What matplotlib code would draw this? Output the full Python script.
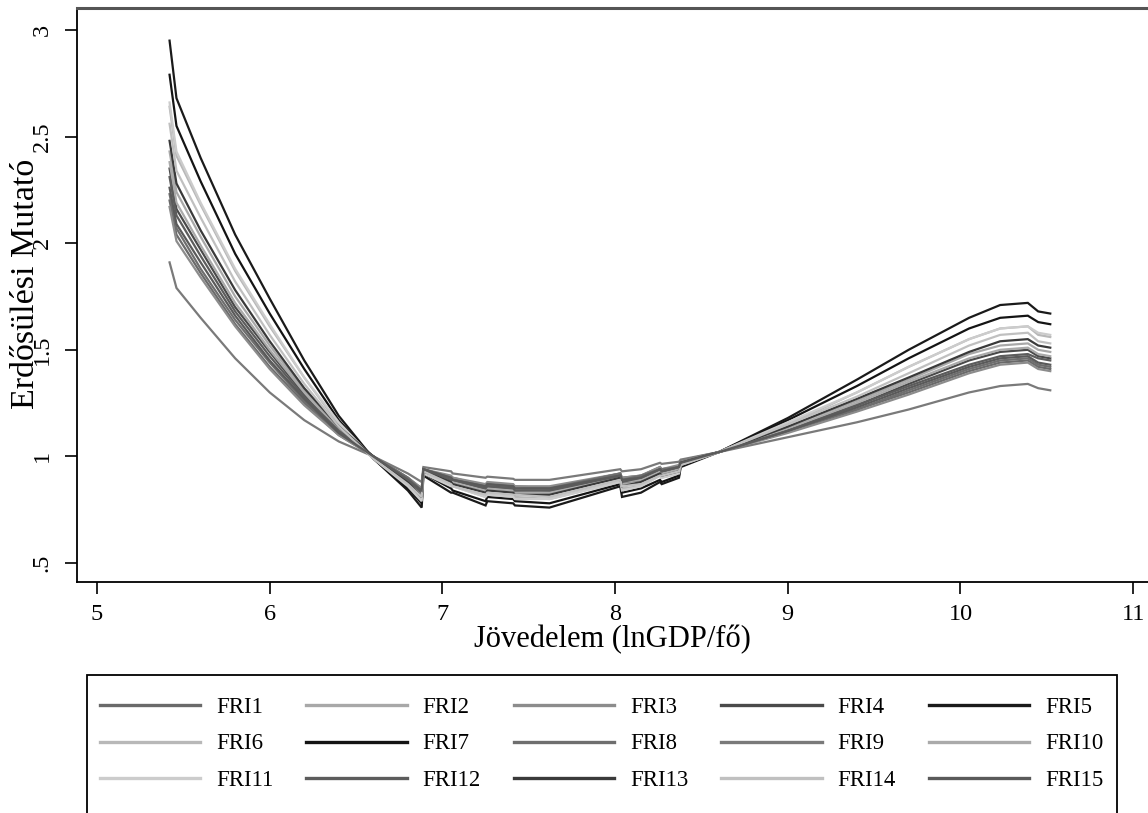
import matplotlib
matplotlib.use("Agg")
import matplotlib.pyplot as plt
from matplotlib.patches import Rectangle
from matplotlib.lines import Line2D

plt.rcParams['font.family'] = ['Liberation Serif', 'DejaVu Serif']

# lnGDP per capita grid (x values)
lngdp = [5.42, 5.46, 5.60, 5.80, 6.00, 6.20, 6.40, 6.60, 6.80, 6.88, 6.89, 7.05, 7.06,
         7.25, 7.26, 7.41, 7.42, 7.62, 8.03, 8.04, 8.15, 8.26, 8.27, 8.37, 8.38, 8.60,
         9.00, 9.40, 9.70, 10.05, 10.23, 10.39, 10.45, 10.52]

fri1 = [2.20, 2.04, 1.86, 1.62, 1.42, 1.25, 1.10, 1.00, 0.90, 0.85, 0.94, 0.90, 0.90,
        0.86, 0.87, 0.86, 0.86, 0.85, 0.92, 0.90, 0.91, 0.95, 0.94, 0.95, 0.98, 1.02,
        1.12, 1.22, 1.30, 1.40, 1.44, 1.45, 1.42, 1.41]
fri2 = [2.43, 2.24, 2.03, 1.75, 1.52, 1.31, 1.13, 1.00, 0.88, 0.82, 0.93, 0.88, 0.88,
        0.84, 0.85, 0.84, 0.83, 0.83, 0.90, 0.87, 0.89, 0.93, 0.92, 0.94, 0.97, 1.02,
        1.14, 1.26, 1.36, 1.48, 1.52, 1.53, 1.50, 1.49]
fri3 = [2.17, 2.01, 1.84, 1.61, 1.41, 1.24, 1.10, 1.00, 0.90, 0.85, 0.94, 0.91, 0.90,
        0.87, 0.88, 0.87, 0.86, 0.86, 0.92, 0.90, 0.91, 0.95, 0.94, 0.96, 0.98, 1.02,
        1.11, 1.21, 1.29, 1.39, 1.43, 1.44, 1.41, 1.40]
fri4 = [2.35, 2.16, 1.97, 1.70, 1.49, 1.29, 1.12, 1.00, 0.89, 0.83, 0.93, 0.89, 0.88,
        0.85, 0.86, 0.85, 0.84, 0.84, 0.91, 0.88, 0.89, 0.93, 0.93, 0.94, 0.97, 1.02,
        1.13, 1.24, 1.34, 1.45, 1.49, 1.50, 1.47, 1.46]
fri5 = [2.95, 2.68, 2.40, 2.04, 1.74, 1.45, 1.19, 0.99, 0.84, 0.76, 0.91, 0.83, 0.83,
        0.77, 0.79, 0.78, 0.77, 0.76, 0.86, 0.81, 0.83, 0.88, 0.87, 0.90, 0.95, 1.02,
        1.18, 1.36, 1.50, 1.65, 1.71, 1.72, 1.68, 1.67]
fri6 = [2.64, 2.41, 2.18, 1.87, 1.61, 1.37, 1.15, 0.99, 0.86, 0.80, 0.92, 0.86, 0.86,
        0.81, 0.82, 0.81, 0.81, 0.80, 0.88, 0.85, 0.86, 0.91, 0.90, 0.92, 0.96, 1.02,
        1.15, 1.30, 1.42, 1.55, 1.60, 1.61, 1.57, 1.56]
fri7 = [2.79, 2.55, 2.29, 1.95, 1.67, 1.41, 1.17, 0.99, 0.85, 0.78, 0.92, 0.85, 0.84,
        0.79, 0.81, 0.80, 0.79, 0.78, 0.87, 0.83, 0.85, 0.89, 0.88, 0.91, 0.96, 1.02,
        1.17, 1.33, 1.46, 1.60, 1.65, 1.66, 1.63, 1.62]
fri8 = [2.23, 2.07, 1.88, 1.64, 1.44, 1.26, 1.11, 1.00, 0.90, 0.84, 0.94, 0.90, 0.89,
        0.86, 0.87, 0.86, 0.85, 0.85, 0.92, 0.89, 0.91, 0.94, 0.94, 0.95, 0.97, 1.02,
        1.12, 1.22, 1.31, 1.41, 1.45, 1.46, 1.43, 1.42]
fri9 = [1.91, 1.79, 1.65, 1.46, 1.30, 1.17, 1.07, 1.00, 0.92, 0.88, 0.95, 0.93, 0.92,
        0.90, 0.905, 0.895, 0.89, 0.89, 0.94, 0.93, 0.94, 0.97, 0.965, 0.975, 0.985, 1.02,
        1.09, 1.16, 1.22, 1.30, 1.33, 1.34, 1.32, 1.31]
fri10 = [2.38, 2.19, 1.99, 1.72, 1.50, 1.30, 1.12, 1.00, 0.88, 0.83, 0.93, 0.89, 0.88,
         0.84, 0.85, 0.84, 0.84, 0.83, 0.90, 0.88, 0.89, 0.93, 0.92, 0.94, 0.97, 1.02,
         1.13, 1.25, 1.35, 1.46, 1.50, 1.51, 1.48, 1.47]
fri11 = [2.66, 2.43, 2.19, 1.88, 1.62, 1.37, 1.16, 0.99, 0.86, 0.79, 0.92, 0.86, 0.86,
         0.81, 0.82, 0.81, 0.80, 0.80, 0.88, 0.84, 0.86, 0.91, 0.90, 0.92, 0.96, 1.02,
         1.16, 1.30, 1.42, 1.55, 1.60, 1.61, 1.58, 1.57]
fri12 = [2.31, 2.13, 1.94, 1.68, 1.47, 1.28, 1.12, 1.00, 0.89, 0.83, 0.94, 0.89, 0.89,
         0.85, 0.86, 0.85, 0.84, 0.84, 0.91, 0.88, 0.90, 0.94, 0.93, 0.95, 0.97, 1.02,
         1.12, 1.24, 1.33, 1.43, 1.47, 1.48, 1.46, 1.45]
fri13 = [2.48, 2.28, 2.06, 1.78, 1.54, 1.32, 1.14, 1.00, 0.88, 0.81, 0.93, 0.88, 0.87,
         0.83, 0.84, 0.83, 0.82, 0.82, 0.90, 0.86, 0.88, 0.92, 0.91, 0.93, 0.97, 1.02,
         1.14, 1.27, 1.37, 1.49, 1.54, 1.55, 1.52, 1.51]
fri14 = [2.56, 2.34, 2.12, 1.82, 1.57, 1.34, 1.14, 0.99, 0.87, 0.81, 0.93, 0.87, 0.86,
         0.82, 0.83, 0.82, 0.82, 0.81, 0.89, 0.86, 0.87, 0.91, 0.91, 0.93, 0.96, 1.02,
         1.15, 1.28, 1.39, 1.52, 1.57, 1.58, 1.54, 1.53]
fri15 = [2.26, 2.09, 1.91, 1.66, 1.45, 1.27, 1.11, 1.00, 0.89, 0.84, 0.94, 0.90, 0.89,
         0.86, 0.87, 0.86, 0.85, 0.85, 0.91, 0.89, 0.90, 0.94, 0.93, 0.95, 0.97, 1.02,
         1.12, 1.23, 1.32, 1.42, 1.46, 1.47, 1.44, 1.43]

series_names = ["FRI1", "FRI2", "FRI3", "FRI4", "FRI5", "FRI6", "FRI7", "FRI8",
                "FRI9", "FRI10", "FRI11", "FRI12", "FRI13", "FRI14", "FRI15"]
series_values = [fri1, fri2, fri3, fri4, fri5, fri6, fri7, fri8,
                 fri9, fri10, fri11, fri12, fri13, fri14, fri15]
series_colors = ['#6a6a6a', '#a8a8a8', '#8c8c8c', '#4a4a4a', '#1a1a1a',
                 '#b8b8b8', '#141414', '#6e6e6e', '#7a7a7a', '#aaaaaa',
                 '#cccccc', '#5c5c5c', '#3a3a3a', '#c0c0c0', '#5a5a5a']

x_ticks = [5, 6, 7, 8, 9, 10, 11]
y_ticks = [0.5, 1.0, 1.5, 2.0, 2.5, 3.0]
y_tick_labels = [".5", "1", "1.5", "2", "2.5", "3"]

W, H = 1148, 813
fig = plt.figure(figsize=(W / 100, H / 100), dpi=100)
ax = fig.add_axes([77 / W, 1 - 582 / H, (W - 77) / W, (582 - 8) / H])

for name, vals, col in zip(series_names, series_values, series_colors):
    ax.plot(lngdp, vals, color=col, lw=1.6, label=name, solid_joinstyle='miter')

ax.set_xlim(4.884, 11.086)
ax.set_ylim(0.411, 3.103)
ax.set_xticks(x_ticks)
ax.set_xticklabels([str(v) for v in x_ticks])
ax.set_yticks(y_ticks)
ax.set_yticklabels(y_tick_labels, rotation=90, va='center')
ax.tick_params(axis='both', direction='out', length=8.5, width=1.2, labelsize=17.5, color='black')
ax.tick_params(axis='x', pad=7)
ax.tick_params(axis='y', pad=9)

for s in ['left', 'bottom']:
    ax.spines[s].set_linewidth(1.3)
    ax.spines[s].set_color('black')
ax.spines['top'].set_color('#555555')
ax.spines['top'].set_linewidth(2.2)
ax.spines['right'].set_visible(False)

ax.set_xlabel("Jövedelem (lnGDP/fő)", fontsize=22, va='center')
ax.xaxis.set_label_coords(0.5, (582 - 640) / 574)
ax.set_ylabel("Erdősülési Mutató", fontsize=24.5, va='center')
ax.yaxis.set_label_coords((26 - 77) / 1071, (582 - 284) / 574)

# legend box (bottom edge is cut off by the figure border)
rect = Rectangle((87 / W, -0.1), (1117 - 87) / W, (1 - 675 / H) + 0.1,
                 transform=fig.transFigure, fill=False, edgecolor='black',
                 lw=1.3, clip_on=False)
fig.add_artist(rect)

# row-major legend order (matplotlib fills column by column)
ncol, nrow = 5, 3
order = [r * ncol + c for c in range(ncol) for r in range(nrow)]
handles = [Line2D([0], [0], color=series_colors[i], lw=2.4) for i in order]
labels = [series_names[i] for i in order]
leg = fig.legend(handles, labels, loc='upper left', ncol=ncol,
                 bbox_to_anchor=(100 / W, 1 - 697 / H),
                 frameon=False, fontsize=16.4,
                 handlelength=4.4, handletextpad=0.7, labelspacing=0.68,
                 columnspacing=1.45, borderaxespad=0.0, borderpad=0.0)

fig.savefig("out.png", dpi=100)
